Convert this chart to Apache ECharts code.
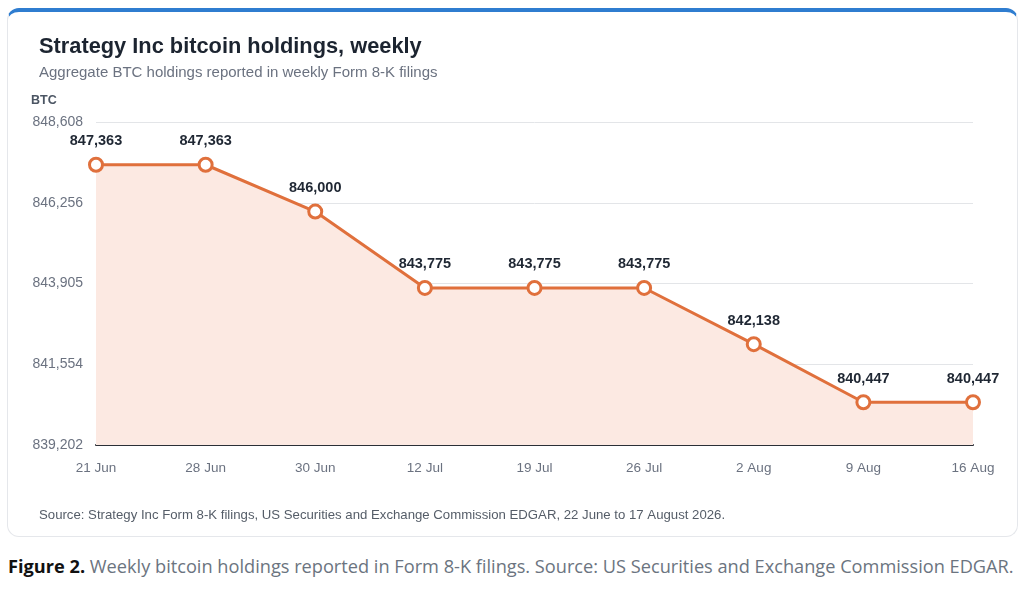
<!DOCTYPE html>
<html>
<head>
    <meta charset="utf-8"/>
    <title>Strategy Inc bitcoin holdings, weekly</title>
    <script src="https://cdn.jsdelivr.net/npm/echarts@6/dist/echarts.min.js"></script>
    <style>
        html, body { margin: 0; padding: 0; background: #fff; }
        body { width: 1024px; height: 608px; position: relative; overflow: hidden; }
        .card {
            position: absolute; left: 7px; top: 8px; width: 1009px; height: 524px;
            border: 1px solid #e5e7eb; border-top: 4px solid #2f7dd0;
            border-radius: 12px; background: #fff;
        }
        #main { position: absolute; left: 0; top: 0; width: 1024px; height: 545px; }
        .caption {
            position: absolute; left: 8px; top: 554px;
            font-family: "Open Sans", "Noto Sans", sans-serif; font-size: 18.2px; color: #6b7480;
        }
        .caption b { color: #111; }
    </style>
</head>
<body>
<div class="card"></div>
<div id="main"></div>
<div class="caption"><b>Figure 2.</b> Weekly bitcoin holdings reported in Form 8-K filings. Source: US Securities and Exchange Commission EDGAR.</div>

<script>
    // data
    var weeks = ['21 Jun', '28 Jun', '30 Jun', '12 Jul', '19 Jul', '26 Jul', '2 Aug', '9 Aug', '16 Aug'];
    var holdings = [847363, 847363, 846000, 843775, 843775, 843775, 842138, 840447, 840447];
    var yTickLabels = ['839,202', '841,554', '843,905', '846,256', '848,608'];
    var yBase = 839202;
    var yTop = 848608;

    // axis drawn relative to yBase so the ticks fall on the reported labels
    var step = (yTop - yBase) / 4;
    var plotted = holdings.map(function (v) { return v - yBase; });

    var myChart = echarts.init(document.getElementById('main'));
    var font = '"Liberation Sans", Arial, sans-serif';
    var option = {
        animation: false,
        textStyle: { fontFamily: font },
        title: [
            {
                text: 'Strategy Inc bitcoin holdings, weekly',
                left: 34, top: 31,
                textStyle: { fontSize: 21.8, fontWeight: 'bold', color: '#1c2430', fontFamily: font }
            },
            {
                text: 'Aggregate BTC holdings reported in weekly Form 8-K filings',
                left: 34, top: 60,
                textStyle: { fontSize: 15, fontWeight: 'normal', color: '#6b7280', fontFamily: font }
            },
            {
                text: 'BTC',
                left: 26, top: 89,
                textStyle: { fontSize: 12.5, fontWeight: 'bold', color: '#4b5563', fontFamily: font }
            },
            {
                text: 'Source: Strategy Inc Form 8-K filings, US Securities and Exchange Commission EDGAR, 22 June to 17 August 2026.',
                left: 34, top: 504,
                textStyle: { fontSize: 13.2, fontWeight: 'normal', color: '#555d68', fontFamily: font }
            }
        ],
        grid: { left: 96, right: 51, top: 122, bottom: 100, containLabel: false },
        xAxis: {
            type: 'category',
            data: weeks,
            boundaryGap: false,
            axisLine: { show: true, lineStyle: { color: '#2b2f36', width: 2 } },
            axisTick: { show: false },
            axisLabel: { color: '#6b7280', fontSize: 13.5, margin: 16, fontFamily: font }
        },
        yAxis: {
            type: 'value',
            min: 0,
            max: yTop - yBase,
            interval: step,
            axisLine: { show: false },
            axisTick: { show: false },
            splitLine: { lineStyle: { color: '#e3e5e8', width: 1 } },
            axisLabel: {
                color: '#6b7280', fontSize: 14, margin: 13, fontFamily: font,
                formatter: function (v) { return yTickLabels[Math.round(v / step)]; }
            }
        },
        series: [{
            type: 'line',
            data: plotted,
            symbol: 'circle',
            symbolSize: 13,
            lineStyle: { color: '#e0703c', width: 3 },
            itemStyle: { color: '#fff', borderColor: '#e0703c', borderWidth: 3 },
            areaStyle: { color: '#fce9e2', opacity: 1 },
            label: {
                show: true,
                position: 'top',
                distance: 8,
                color: '#1f2733',
                fontSize: 14.5,
                fontWeight: 'bold',
                fontFamily: font,
                formatter: function (p) { return holdings[p.dataIndex].toLocaleString('en-US'); }
            }
        }]
    };
    myChart.setOption(option);
</script>
</body>
</html>
